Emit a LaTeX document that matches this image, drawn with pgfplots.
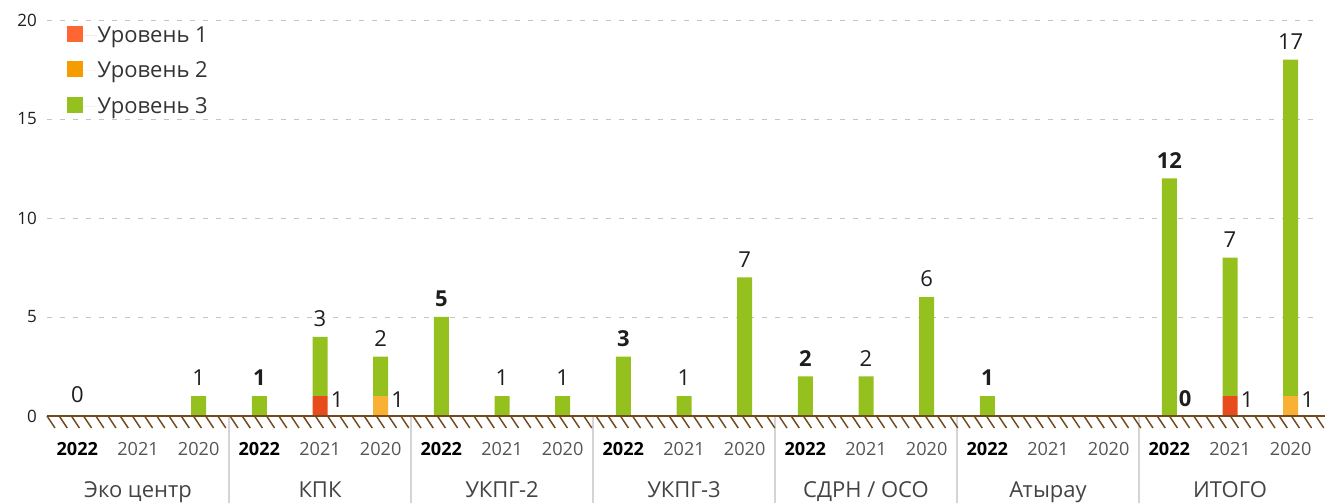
\documentclass[border=0pt]{standalone}
\usepackage{fontspec}
\setmainfont{Open Sans}
\usepackage{pgfplots}
\usepackage{pgfplotstable}
\pgfplotsset{compat=1.18}
\definecolor{cRed}{HTML}{E84C1C}
\definecolor{cRedL}{HTML}{FF6633}
\definecolor{cOrg}{HTML}{F8B133}
\definecolor{cOrgL}{HTML}{F59C00}
\definecolor{cGrn}{HTML}{95C11F}
\definecolor{cBrown}{HTML}{734A1E}
\definecolor{cSep}{HTML}{D4D4D4}
\definecolor{cGrid}{HTML}{C4C4C4}
\definecolor{cTxt}{HTML}{1E1E1E}
\definecolor{cYear}{HTML}{555555}
\definecolor{cGroup}{HTML}{444444}
\definecolor{cLeg}{HTML}{333333}
\newcommand{\B}[1]{\textcolor{black}{\textbf{#1}}}

\pgfplotstableread{
x l1 l2 l3
0 0 0 0
1 0 0 0
2 0 0 1
3 0 0 1
4 1 0 3
5 0 1 2
6 0 0 5
7 0 0 1
8 0 0 1
9 0 0 3
10 0 0 1
11 0 0 7
12 0 0 2
13 0 0 2
14 0 0 6
15 0 0 1
16 0 0 0
17 0 0 0
18 0 0 12
19 1 0 7
20 0 1 17
}\datatable

\begin{document}
\begin{tikzpicture}[
  vl/.style={font=\fontsize{16.5pt}{18pt}\selectfont, text=cTxt, inner sep=0pt, anchor=south, yshift=7.5pt},
  vr/.style={font=\fontsize{16.5pt}{18pt}\selectfont, text=cTxt, inner sep=0pt, anchor=south west, xshift=7.9pt, yshift=6.4pt},
  gl/.style={font=\fontsize{16.5pt}{20pt}\selectfont, text=cGroup, inner sep=0pt, anchor=base, yshift=-61pt}
]
\useasboundingbox (0,0) rectangle (993.75pt,377.25pt);
\begin{axis}[
  name=ax,
  at={(35.25pt,65.25pt)}, anchor=south west,
  scale only axis, width=955.5pt, height=297pt,
  xmin=-0.5, xmax=20.5, ymin=0, ymax=20,
  ybar stacked, bar width=11.25pt,
  clip=false,
  axis line style={draw=none},
  major tick length=0pt,
  ymajorgrids,
  grid style={cGrid, dash pattern=on 4pt off 5.75pt, line width=0.7pt},
  ytick={0,5,10,15,20},
  /pgf/number format/assume math mode=true,
  yticklabel style={inner sep=0pt, xshift=-7.5pt, font=\fontsize{12.75pt}{14pt}\selectfont, text=cTxt},
  xtick={0,...,20},
  xticklabels={\B{2022},2021,2020,\B{2022},2021,2020,\B{2022},2021,2020,\B{2022},2021,2020,\B{2022},2021,2020,\B{2022},2021,2020,\B{2022},2021,2020},
  xticklabel style={inner sep=0pt, anchor=north, yshift=-19.5pt, font=\fontsize{13.6pt}{16pt}\selectfont, text=cYear},
  legend cell align=left,
  legend style={at={(axis description cs:0,1)}, anchor=north west, xshift=15pt, yshift=-4.25pt,
    draw=none, fill=none, inner sep=0pt, row sep=13pt,
    font=\fontsize{16.5pt}{20pt}\selectfont, text=cLeg, nodes={inner sep=0pt}},
]
\addplot[fill=cRed, draw=none, legend image code/.code={\fill[cRedL] (0pt,-5pt) rectangle (12pt,7pt); \path (12pt,0pt) -- (22.5pt,0pt);}] table[x=x,y=l1] {\datatable};
\addlegendentry{Уровень 1}
\addplot[fill=cOrg, draw=none, legend image code/.code={\fill[cOrgL] (0pt,-5pt) rectangle (12pt,7pt); \path (12pt,0pt) -- (22.5pt,0pt);}] table[x=x,y=l2] {\datatable};
\addlegendentry{Уровень 2}
\addplot[fill=cGrn, draw=none, legend image code/.code={\fill[cGrn] (0pt,-5pt) rectangle (12pt,7pt); \path (12pt,0pt) -- (22.5pt,0pt);}] table[x=x,y=l3] {\datatable};
\addlegendentry{Уровень 3}

% value labels
\node[vl, yshift=2.3pt] at (axis cs:0,0) {0};
\node[vl] at (axis cs:2,1) {1};
\node[vl] at (axis cs:3,1) {\textbf{1}};
\node[vl] at (axis cs:4,4) {3};
\node[vr] at (axis cs:4,0) {1};
\node[vl] at (axis cs:5,3) {2};
\node[vr] at (axis cs:5,0) {1};
\node[vl] at (axis cs:6,5) {\textbf{5}};
\node[vl] at (axis cs:7,1) {1};
\node[vl] at (axis cs:8,1) {1};
\node[vl] at (axis cs:9,3) {\textbf{3}};
\node[vl] at (axis cs:10,1) {1};
\node[vl] at (axis cs:11,7) {7};
\node[vl] at (axis cs:12,2) {\textbf{2}};
\node[vl] at (axis cs:13,2) {2};
\node[vl] at (axis cs:14,6) {6};
\node[vl] at (axis cs:15,1) {\textbf{1}};
\node[vl] at (axis cs:18,12) {\textbf{12}};
\node[vr, xshift=-1pt] at (axis cs:18,0) {\textbf{0}};
\node[vl] at (axis cs:19,8) {7};
\node[vr] at (axis cs:19,0) {1};
\node[vl] at (axis cs:20,18) {17};
\node[vr] at (axis cs:20,0) {1};

% group separators
\draw[cSep, line width=0.8pt] (axis cs:2.5,0) -- ([yshift=-66pt]axis cs:2.5,0);
\draw[cSep, line width=0.8pt] (axis cs:5.5,0) -- ([yshift=-66pt]axis cs:5.5,0);
\draw[cSep, line width=0.8pt] (axis cs:8.5,0) -- ([yshift=-66pt]axis cs:8.5,0);
\draw[cSep, line width=0.8pt] (axis cs:11.5,0) -- ([yshift=-66pt]axis cs:11.5,0);
\draw[cSep, line width=0.8pt] (axis cs:14.5,0) -- ([yshift=-66pt]axis cs:14.5,0);
\draw[cSep, line width=0.8pt] (axis cs:17.5,0) -- ([yshift=-66pt]axis cs:17.5,0);

% group labels
\node[gl] at (axis cs:1,0) {Эко центр};
\node[gl] at (axis cs:4,0) {КПК};
\node[gl] at (axis cs:7,0) {УКПГ-2};
\node[gl] at (axis cs:10,0) {УКПГ-3};
\node[gl] at (axis cs:13,0) {СДРН / ОСО};
\node[gl] at (axis cs:16,0) {Атырау};
\node[gl] at (axis cs:19,0) {ИТОГО};
\end{axis}
% ground hatching
\foreach \i in {0,...,104}
  \draw[cBrown, line width=1.1pt] ([xshift=\i*9.15pt]ax.south west) -- ++(6pt,-9pt);
\draw[cBrown, line width=1.9pt] (ax.south west) -- ++(958.5pt,0pt);
\end{tikzpicture}
\end{document}
